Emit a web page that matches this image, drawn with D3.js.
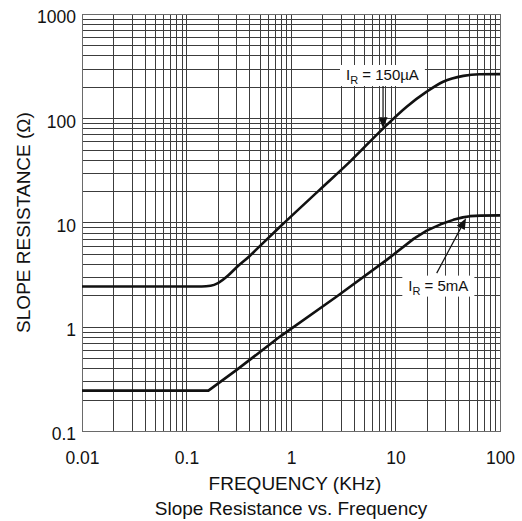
<!DOCTYPE html>
<html>
<head>
<meta charset="utf-8">
<script src="https://d3js.org/d3.v7.min.js"></script>
<style>
html,body{margin:0;padding:0;background:#fff;}
svg{display:block;font-family:"Liberation Sans",Arial,sans-serif;}
</style>
</head>
<body>
<svg id="chart" width="522" height="521"></svg>
<script>
// ---- data ----
const xTickValues = [0.01, 0.1, 1, 10, 100];
const xTickLabels = ["0.01", "0.1", "1", "10", "100"];
const yTickValues = [0.1, 1, 10, 100, 1000];
const yTickLabels = ["0.1", "1", "10", "100", "1000"];

const freq150uA = [0.01, 0.1, 0.14, 0.17, 0.2, 0.25, 0.3, 0.4, 0.5, 0.785, 1.9, 3.67, 7.64, 12.8, 19.9, 28.6, 44.6, 64, 100];
const res150uA  = [2.43, 2.43, 2.43, 2.47, 2.62, 3.1, 3.7, 4.75, 5.9, 9.1, 20.8, 38.4, 80, 129, 180, 224, 255, 264, 265];

const freq5mA = [0.01, 0.1, 0.162, 0.302, 0.785, 2.74, 8.24, 15, 19.9, 27, 35.7, 44, 51.6, 65, 100];
const res5mA  = [0.244, 0.244, 0.244, 0.386, 0.805, 1.95, 4.38, 7.0, 8.36, 9.6, 10.6, 11.2, 11.5, 11.65, 11.7];

const labels = [
  {main: "I", sub: "R", rest: " = 150\u00B5A", boxF: 7.5, boxR: 260, fromF: 7.6, fromR: 204, toF: 7.6, toR: 80},
  {main: "I", sub: "R", rest: " = 5mA", boxF: 25.7, boxR: 2.48, fromF: 24.8, fromR: 3.27, toF: 47.3, toR: 11.0}
];

const xTitle = "FREQUENCY (KHz)";
const yTitle = "SLOPE RESISTANCE (\u03A9)";
const chartTitle = "Slope Resistance vs. Frequency";

// ---- layout ----
const svg = d3.select("#chart");
const L = 82, R = 500, T = 14, B = 431;
const x = d3.scaleLog().domain([0.01, 100]).range([L, R]);
const y = d3.scaleLog().domain([0.1, 1000]).range([B, T]);

function gridVals(lo, hi) {
  const v = [];
  for (let d = lo; d < hi * 0.999; d *= 10)
    for (let k = 1; k <= 9; k++) v.push(d * k);
  v.push(hi);
  return v;
}
const gx = gridVals(0.01, 100);
const gy = gridVals(0.1, 1000);

const grid = svg.append("g").attr("shape-rendering", "crispEdges");
grid.selectAll("line.v").data(gx).join("line")
  .attr("class", "v")
  .attr("x1", d => Math.round(x(d)) + 0.5).attr("x2", d => Math.round(x(d)) + 0.5)
  .attr("y1", T).attr("y2", B)
  .attr("stroke", "#3c3c3c").attr("stroke-width", 1);
grid.selectAll("line.h").data(gy).join("line")
  .attr("class", "h")
  .attr("y1", d => Math.round(y(d)) + 0.5).attr("y2", d => Math.round(y(d)) + 0.5)
  .attr("x1", L).attr("x2", R)
  .attr("stroke", "#3c3c3c").attr("stroke-width", 1);
grid.append("rect")
  .attr("x", L + 0.5).attr("y", T + 0.5)
  .attr("width", Math.round(R - L)).attr("height", Math.round(B - T))
  .attr("fill", "none").attr("stroke", "#6a6a6a").attr("stroke-width", 1.2);

// axes via d3 axis generators (tick labels only)
const xAxis = d3.axisBottom(x).tickValues(xTickValues)
  .tickFormat((d, i) => xTickLabels[i]).tickSize(0).tickPadding(0);
const gxA = svg.append("g").attr("transform", `translate(0,${B})`).call(xAxis);
gxA.select(".domain").remove();
gxA.selectAll("text").attr("font-size", 17.5).attr("fill", "#111")
  .attr("font-family", "Liberation Sans, Arial, sans-serif")
  .attr("dy", null).attr("y", 33);

const yAxis = d3.axisLeft(y).tickValues(yTickValues)
  .tickFormat((d, i) => yTickLabels[i]).tickSize(0).tickPadding(0);
const gyA = svg.append("g").attr("transform", `translate(${L},0)`).call(yAxis);
gyA.select(".domain").remove();
gyA.selectAll("text").attr("font-size", 17.5).attr("fill", "#111")
  .attr("font-family", "Liberation Sans, Arial, sans-serif")
  .attr("x", -6).attr("dy", "0.5em");

// titles
svg.append("text").attr("x", 295).attr("y", 490).attr("text-anchor", "middle")
  .attr("font-size", 19).attr("fill", "#111").text(xTitle);
svg.append("text").attr("x", 291).attr("y", 515).attr("text-anchor", "middle")
  .attr("font-size", 19).attr("fill", "#111").text(chartTitle);
svg.append("text").attr("transform", `translate(30,${(T + B) / 2}) rotate(-90)`)
  .attr("text-anchor", "middle").attr("font-size", 19).attr("fill", "#111").text(yTitle);

// curves
const series = [
  {pts: d3.zip(freq150uA, res150uA), curve: d3.curveMonotoneX},
  {pts: d3.zip(freq5mA, res5mA), curve: d3.curveLinear}
];
svg.append("g").selectAll("path").data(series).join("path")
  .attr("d", s => d3.line().x(d => x(d[0])).y(d => y(d[1])).curve(s.curve)(s.pts))
  .attr("fill", "none").attr("stroke", "#111")
  .attr("stroke-width", 2.6).attr("stroke-linejoin", "round");

// annotations
labels.forEach(lb => {
  const g = svg.append("g");
  const cx = x(lb.boxF), cy = y(lb.boxR);
  const t = g.append("text").attr("font-size", 15).attr("fill", "#111")
    .attr("text-anchor", "middle").attr("x", cx).attr("y", cy + 5);
  t.append("tspan").text(lb.main);
  t.append("tspan").attr("font-size", 11).attr("dy", 4).text(lb.sub);
  t.append("tspan").attr("dy", -4).text(lb.rest);
  const bb = t.node().getBBox();
  g.insert("rect", "text").attr("x", bb.x - 6).attr("y", cy - 10)
    .attr("width", bb.width + 12).attr("height", 21).attr("fill", "#fff");
  const x1 = x(lb.fromF), y1 = y(lb.fromR), x2 = x(lb.toF), y2 = y(lb.toR);
  const ang = Math.atan2(y2 - y1, x2 - x1);
  const hl = 11, hw = 4.5;
  const bx = x2 - hl * Math.cos(ang), by = y2 - hl * Math.sin(ang);
  g.append("line").attr("x1", x1).attr("y1", y1).attr("x2", bx).attr("y2", by)
    .attr("stroke", "#111").attr("stroke-width", 1.2);
  const px = -Math.sin(ang), py = Math.cos(ang);
  g.append("path")
    .attr("d", `M${x2},${y2}L${bx + hw * px},${by + hw * py}L${bx - hw * px},${by - hw * py}Z`)
    .attr("fill", "#111");
});
</script>
</body>
</html>
